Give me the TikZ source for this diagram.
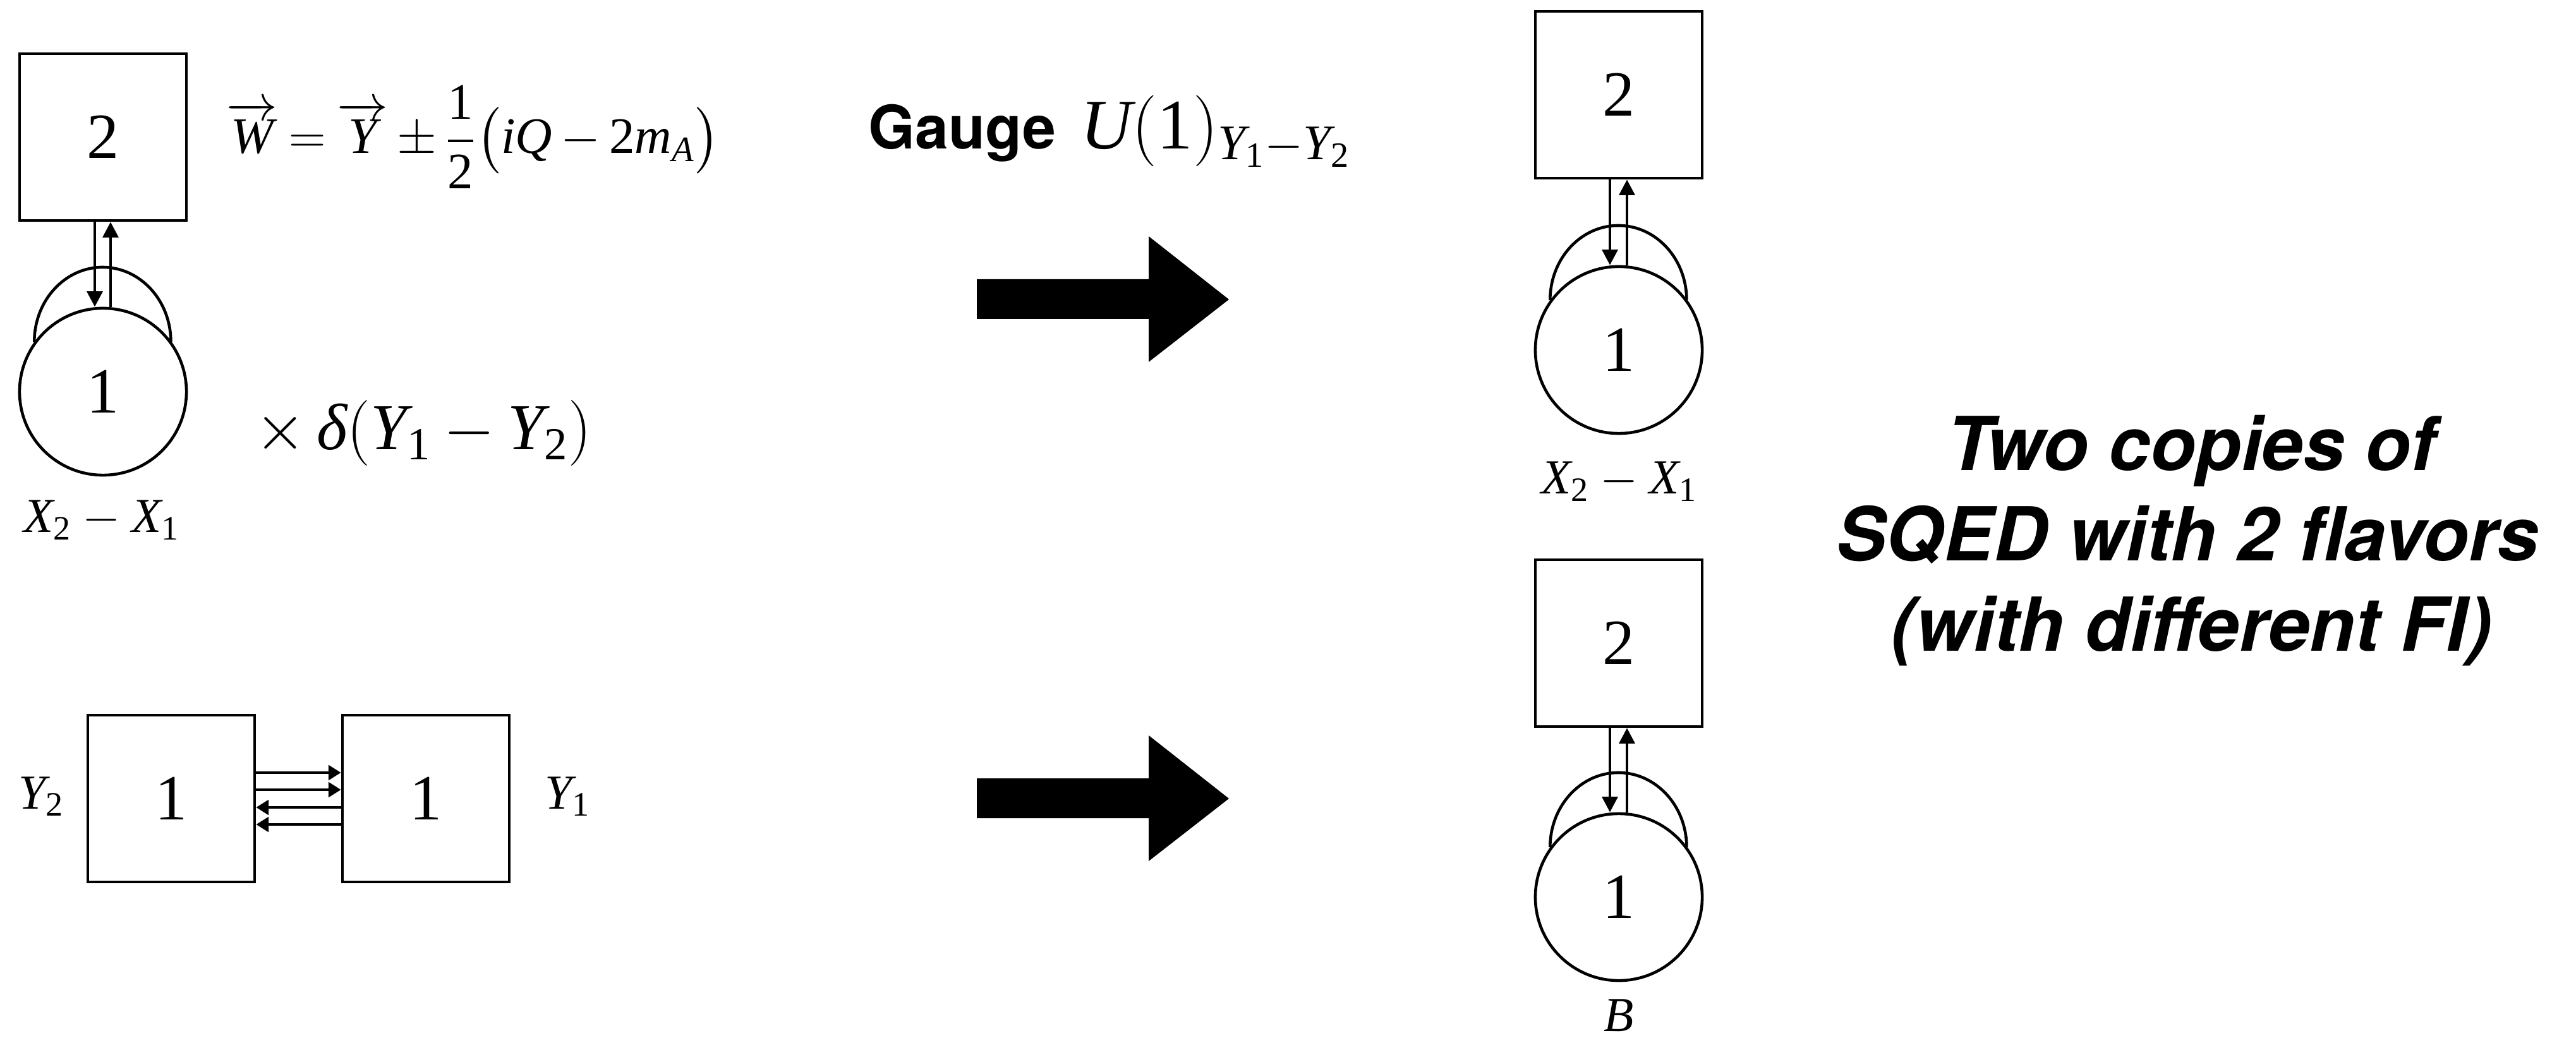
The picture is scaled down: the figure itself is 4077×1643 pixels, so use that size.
\RequirePackage{fix-cm}
\documentclass[tikz,border=0pt]{standalone}
\usepackage{amsmath}
\usepackage{fontspec}
\setmainfont{Liberation Serif}
\newfontfamily\heros{TeX Gyre Heros}
\usetikzlibrary{arrows.meta}
\newcommand\mv[1]{\mathit{#1}}
\newcommand\md[1]{\mathrm{#1}}
\tikzset{
  qbox/.style={draw, line width=1.3pt, minimum size=2.64cm, inner sep=0pt, font=\fontsize{29}{34}\selectfont},
  qnode/.style={circle, draw, line width=1.3pt, minimum size=2.64cm, inner sep=0pt, font=\fontsize{29}{34}\selectfont},
  vbif/.style={line width=1.3pt, -{Triangle[length=7pt,width=7pt]}},
  hbif/.style={line width=1.3pt, -{Triangle[length=5.6pt,width=6.6pt]}},
  loopline/.style={line width=1.3pt},
  lab/.style={inner sep=0pt, anchor=base, font=\fontsize{22}{26}\selectfont},
  bigtext/.style={inner sep=0pt, anchor=base, font=\heros\bfseries\itshape\fontsize{33.5}{40}\selectfont},
}
\begin{document}
\begin{tikzpicture}[x=0.01cm, y=-0.01cm]
\fill[white] (0,0) rectangle (4077,1643);
\useasboundingbox (0,0) rectangle (4077,1643);

% ---------- left top quiver ----------
\node[qbox] (L2) at (163,217) {2};
\node[qnode] (L1) at (163,620) {1};
\draw[loopline] (L1.144) arc[start angle=180, end angle=0, x radius=1.08cm, y radius=1.18cm];
\draw[vbif] ([xshift=-0.13cm]L2.south) -- ([xshift=-0.13cm]L1.north);
\draw[vbif] ([xshift=0.12cm]L1.north) -- ([xshift=0.12cm]L2.south);
\node[lab] (LX) at (161,843) {$\mv{X}_{\md{2}}-\mv{X}_{\md{1}}$};

\node[inner sep=0pt, anchor=base west, font=\fontsize{23}{28}\selectfont] (eq) at (358,243)
  {\thickmuskip=4mu plus 2mu\medmuskip=3mu plus 2mu$\overrightarrow{\mv{W}}=\overrightarrow{\mv{Y}}\pm\dfrac{\md{1}}{\md{2}}\bigl(\mv{iQ}-\md{2}\mv{m}_{\mv{A}}\bigr)$};
\node[inner sep=0pt, anchor=base west, font=\fontsize{29.5}{34}\selectfont] (delta) at (403,712)
  {\medmuskip=3.5mu$\times\,\text{\itshape δ}(\mv{Y}_{\md{1}}-\mv{Y}_{\md{2}})$};

% ---------- left bottom quiver ----------
\node[qbox] (Yb2) at (271,1264) {1};
\node[qbox] (Yb1) at (674,1264) {1};
\draw[hbif] ([yshift=0.41cm]Yb2.east) -- ([yshift=0.41cm]Yb1.west);
\draw[hbif] ([yshift=0.14cm]Yb2.east) -- ([yshift=0.14cm]Yb1.west);
\draw[hbif] ([yshift=-0.14cm]Yb1.west) -- ([yshift=-0.14cm]Yb2.east);
\draw[hbif] ([yshift=-0.41cm]Yb1.west) -- ([yshift=-0.41cm]Yb2.east);
\node[lab, anchor=base west] (LY2) at (29,1280) {$\mv{Y}_{\md{2}}$};
\node[lab, anchor=base west] (LY1) at (862,1280) {$\mv{Y}_{\md{1}}$};

% ---------- gauge label and big arrows ----------
\node[inner sep=0pt, anchor=base west, font=\heros\bfseries\fontsize{27}{32}\selectfont] (gauge) at (1374,236) {Gauge};
\node[inner sep=0pt, anchor=base west, font=\fontsize{32}{38}\selectfont] (u1) at (1710,236)
  {$\mv{U}(\md{1})_{\mv{Y}_{\md{1}}-\mv{Y}_{\md{2}}}$};

\fill (1546,442) -- (1818,442) -- (1818,374) -- (1945,474) -- (1818,573) -- (1818,505) -- (1546,505) -- cycle;
\fill (1546,1232) -- (1818,1232) -- (1818,1164) -- (1945,1264) -- (1818,1363) -- (1818,1295) -- (1546,1295) -- cycle;

% ---------- right top quiver ----------
\node[qbox] (R2a) at (2562,150) {2};
\node[qnode] (R1a) at (2562,554) {1};
\draw[loopline] (R1a.144) arc[start angle=180, end angle=0, x radius=1.08cm, y radius=1.18cm];
\draw[vbif] ([xshift=-0.14cm]R2a.south) -- ([xshift=-0.14cm]R1a.north);
\draw[vbif] ([xshift=0.13cm]R1a.north) -- ([xshift=0.13cm]R2a.south);
\node[lab] (RX) at (2563,782) {$\mv{X}_{\md{2}}-\mv{X}_{\md{1}}$};

% ---------- right bottom quiver ----------
\node[qbox] (R2b) at (2562,1018) {2};
\node[qnode] (R1b) at (2562,1420) {1};
\draw[loopline] (R1b.144) arc[start angle=180, end angle=0, x radius=1.08cm, y radius=1.18cm];
\draw[vbif] ([xshift=-0.14cm]R2b.south) -- ([xshift=-0.14cm]R1b.north);
\draw[vbif] ([xshift=0.13cm]R1b.north) -- ([xshift=0.13cm]R2b.south);
\node[lab] (RB) at (2562,1632) {$\mv{B}$};

% ---------- conclusion text ----------
\node[bigtext] (t1) at (3468,745) {Two copies of};
\node[bigtext] (t2) at (3462,888) {SQED with 2 flavors};
\node[bigtext] (t3) at (3468,1031) {(with different FI)};
\end{tikzpicture}
\end{document}
